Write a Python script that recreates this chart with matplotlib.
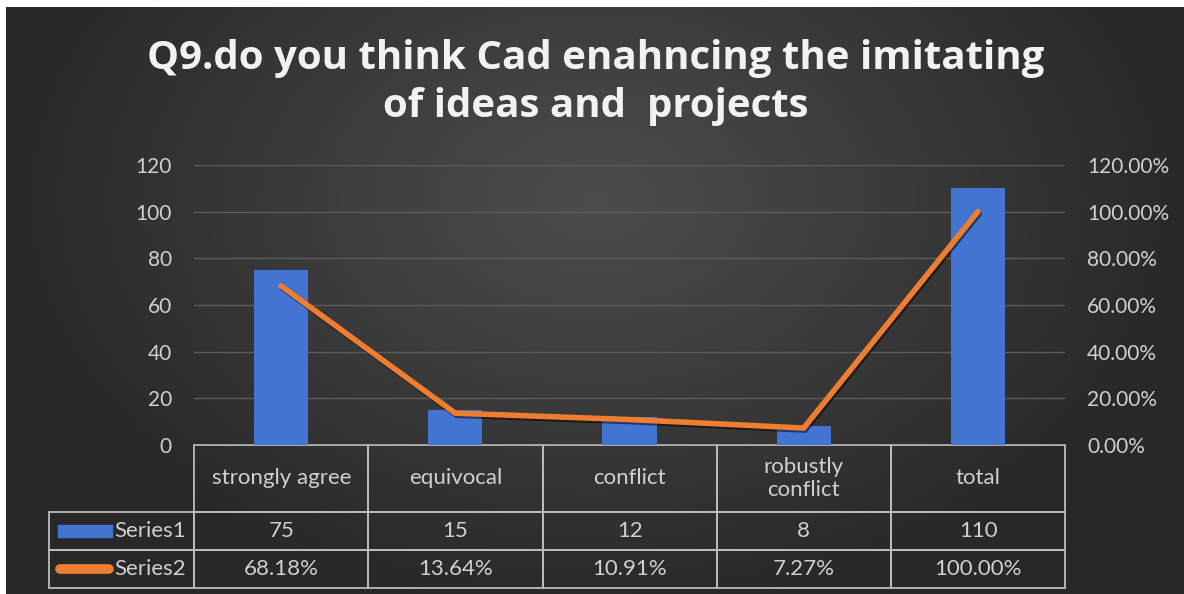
import numpy as np
import matplotlib
matplotlib.use("Agg")
import matplotlib.pyplot as plt
import matplotlib.patheffects as pe
from matplotlib.table import Table
from matplotlib.lines import Line2D
from matplotlib.patches import Rectangle
from matplotlib.ticker import FuncFormatter

categories = ["strongly agree", "equivocal", "conflict", "robustly\nconflict", "total"]
series1 = [75, 15, 12, 8, 110]
series2 = [68.18, 13.64, 10.91, 7.27, 100.00]
series1_labels = ["75", "15", "12", "8", "110"]
series2_labels = ["68.18%", "13.64%", "10.91%", "7.27%", "100.00%"]
title = "Q9.do you think Cad enahncing the imitating\nof ideas and  projects"

blue = "#4374d2"
orange = "#ee7d31"
txt = "#d0d0d0"

W, H = 1184, 594
fig = plt.figure(figsize=(W / 100, H / 100), dpi=100, facecolor="white")

# background gradient panel
bg = fig.add_axes([6 / W, 0, 1 - 6 / W, 587 / H], zorder=-5)
gx, gy = np.meshgrid(np.linspace(-1, 1, 400), np.linspace(-1, 1, 200))
r = np.sqrt((gx / 1.0) ** 2 + ((gy + 0.35) / 1.4) ** 2)
shade = np.clip(0.30 - 0.14 * r, 0.16, 0.30)
bg.imshow(np.dstack([shade] * 3), aspect="auto", extent=[0, 1, 0, 1], origin="upper")
bg.axis("off")

left, right = 194 / W, 1065 / W
bottom, top = (H - 445) / H, (H - 165) / H
ax_w = 1065 - 194
ax_h = 445 - 165
ax = fig.add_axes([left, bottom, right - left, top - bottom])
ax.set_facecolor("none")
x = np.arange(len(categories))
ax.bar(x, series1, width=0.31, color=blue, zorder=2)
ax.set_xlim(-0.5, len(categories) - 0.5)
ax.set_ylim(0, 120)
ax.set_yticks(range(0, 121, 20))
ax.set_xticks([])
ax.yaxis.grid(True, color="#5c5c5c", linewidth=1.0)
ax.set_axisbelow(True)
for s in ax.spines.values():
    s.set_visible(False)
ax.tick_params(axis="y", length=0, labelcolor=txt, labelsize=15, pad=16)
for lab in ax.get_yticklabels():
    lab.set_fontfamily("Lato")

ax2 = ax.twinx()
ax2.plot(x, np.array(series2) / 100, color=orange, linewidth=4, solid_capstyle="round",
         zorder=3, path_effects=[pe.SimpleLineShadow(offset=(1, -1.5), shadow_color="black", alpha=0.5),
                                 pe.Normal()])
ax2.set_ylim(0, 1.2)
ax2.set_yticks(np.arange(0, 1.21, 0.2))
ax2.yaxis.set_major_formatter(FuncFormatter(lambda v, p: f"{v * 100:.2f}%"))
for s in ax2.spines.values():
    s.set_visible(False)
ax2.tick_params(axis="y", length=0, labelcolor=txt, labelsize=15, pad=16)
for lab in ax2.get_yticklabels():
    lab.set_fontfamily("Lato")

# data table under the plot (sizes in axes fractions)
lab_w = 145 / ax_w
col_w = 174 / ax_w
row_h = [67 / ax_h, 38 / ax_h, 38 / ax_h]
tbl = Table(ax, bbox=[0, -sum(row_h), 1, sum(row_h)])
rows = [categories, series1_labels, series2_labels]
row_names = [None, "Series1", "Series2"]
for i, vals in enumerate(rows):
    if row_names[i] is not None:
        c = tbl.add_cell(i, -1, width=lab_w, height=row_h[i], text=row_names[i], loc="right",
                         facecolor="none", edgecolor="#bcbcbc")
        c.PAD = 0.06
    for j, v in enumerate(vals):
        tbl.add_cell(i, j, width=col_w, height=row_h[i], text=v, loc="center",
                     facecolor="none", edgecolor="#bcbcbc")
tbl.auto_set_font_size(False)
tbl.set_fontsize(16)
for cell in tbl.get_celld().values():
    cell.set_linewidth(1.3)
    cell.get_text().set_color(txt)
    cell.get_text().set_fontfamily("Lato")
    cell.get_text().set_linespacing(1.15)
ax.add_table(tbl)
tbl.set_clip_on(False)

# legend keys inside the row label cells
y1 = -(row_h[0] + row_h[1] / 2)
y2 = -(row_h[0] + row_h[1] + row_h[2] / 2)
ax.add_patch(Rectangle((-136 / ax_w, y1 - 6 / ax_h), 54 / ax_w, 12 / ax_h, transform=ax.transAxes,
                       color=blue, clip_on=False, zorder=4))
ax.add_line(Line2D([-134 / ax_w, -85 / ax_w], [y2, y2], transform=ax.transAxes, color=orange,
                   linewidth=7, solid_capstyle="round", clip_on=False, zorder=4))

fig.text(0.503, 1 - 82 / H, title, ha="center", va="center", color="#f2f2f2", fontsize=29,
         fontweight="bold", family="Open Sans", linespacing=1.3)

fig.savefig("out.png", dpi=100, facecolor=fig.get_facecolor())
